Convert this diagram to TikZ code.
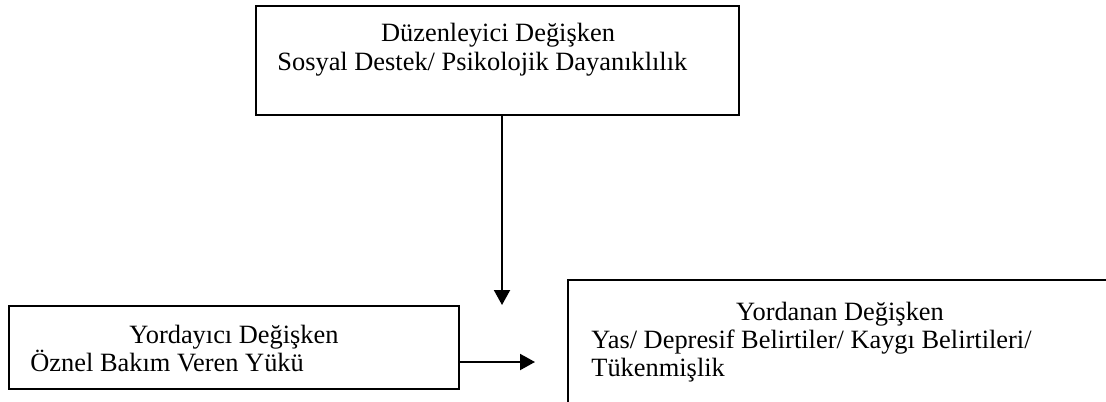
\documentclass[tikz,border=0pt]{standalone}
\usepackage{fontspec}
\setmainfont{Liberation Serif}
\usetikzlibrary{arrows.meta}
\begin{document}
\begin{tikzpicture}[x=0.5pt,y=-0.5pt,
  box/.style={draw, line width=1pt, inner sep=0pt, outer sep=0pt, anchor=north west},
  ltxt/.style={anchor=base west, inner sep=0pt, font=\fontsize{13.2}{14}\selectfont},
  ctxt/.style={anchor=base, inner sep=0pt, font=\fontsize{13.2}{14}\selectfont},
  arr/.style={line width=1pt, -{Triangle[width=8pt,length=7.5pt]}}]
\useasboundingbox (0,0) rectangle (1106,401);
\clip (0,0) rectangle (1106,401);
% boxes
\node[box, minimum width=241.5pt, minimum height=54.5pt] (mod) at (256,6) {};
\node[box, minimum width=225pt, minimum height=41.5pt] (pred) at (9,306) {};
\node[box, minimum width=276pt, minimum height=70pt] (out) at (568,280) {};
% texts
\node[ctxt] (modA) at (498,42) {Düzenleyici Değişken};
\node[ltxt] (modB) at (277,70) {Sosyal Destek/ Psikolojik Dayanıklılık};
\node[ctxt] (predA) at (234,343) {Yordayıcı Değişken};
\node[ltxt] (predB) at (30,371) {Öznel Bakım Veren Yükü};
\node[ctxt] (outA) at (840,320) {Yordanan Değişken};
\node[ltxt] (outB) at (591,348) {Yas/ Depresif Belirtiler/ Kaygı Belirtileri/};
\node[ltxt] (outC) at (591,376) {Tükenmişlik};
% connectors
\coordinate (vtip) at (502,305);
\coordinate (htip) at (535,362);
\draw[arr] (mod.south -| vtip) -- (vtip);
\draw[arr] (pred.east |- htip) -- (htip);
\end{tikzpicture}
\end{document}
